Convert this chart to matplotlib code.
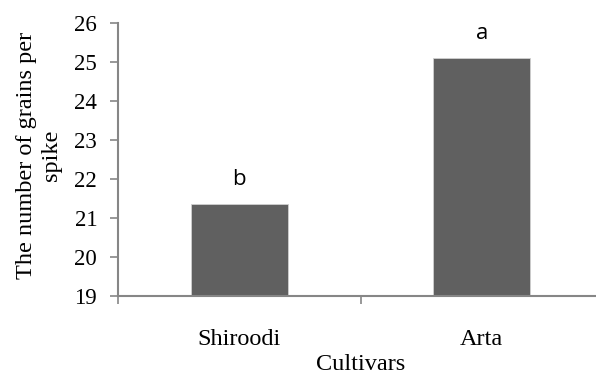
import matplotlib
matplotlib.use("Agg")
import matplotlib.pyplot as plt

cultivars = ["Shiroodi", "Arta"]
grains = [21.37, 25.10]
letters = ["b", "a"]
yticks = [19, 20, 21, 22, 23, 24, 25, 26]

plt.rcParams['font.family'] = ['Liberation Serif', 'DejaVu Serif']

fig = plt.figure(figsize=(5.96, 3.78), dpi=100)
ax = fig.add_axes([118 / 596, 1 - 296 / 378, 485 / 596, 273 / 378])

x = list(range(len(cultivars)))
ax.bar(x, [g - yticks[0] for g in grains], bottom=yticks[0], width=0.4,
       color="#606060", edgecolor="#d0d0d0", linewidth=0.6, zorder=2)

for xi, g, lab in zip(x, grains, letters):
    ax.text(xi, g + 0.35, lab, ha="center", va="bottom", fontsize=16,
            family=["Open Sans", "DejaVu Sans"])

ax.set_xlim(-0.5, len(cultivars) - 0.5)
ax.set_ylim(yticks[0], yticks[-1])
ax.set_yticks(yticks)
ax.set_xticks(x)
ax.set_xticklabels(cultivars, fontsize=17.5)
ax.set_xticks([i - 0.5 for i in range(len(cultivars) + 1)], minor=True)
ax.tick_params(axis="x", which="major", length=0, pad=24)
ax.tick_params(axis="x", which="minor", length=6, width=1.2, color="#868686", direction="out")
ax.tick_params(axis="y", length=6, width=1.2, color="#868686", direction="out", labelsize=16.5, pad=9)

for s in ["top", "right"]:
    ax.spines[s].set_visible(False)
for s in ["left", "bottom"]:
    ax.spines[s].set_color("#868686")
    ax.spines[s].set_linewidth(1.5)

ax.set_xlabel("Cultivars", fontsize=17.5, labelpad=3)
fig.text(39 / 596, 1 - 155 / 378, "The number of grains per\nspike", rotation=90,
         ha="center", va="center", fontsize=17.5, linespacing=1.2)

fig.savefig("out.png", dpi=100)
